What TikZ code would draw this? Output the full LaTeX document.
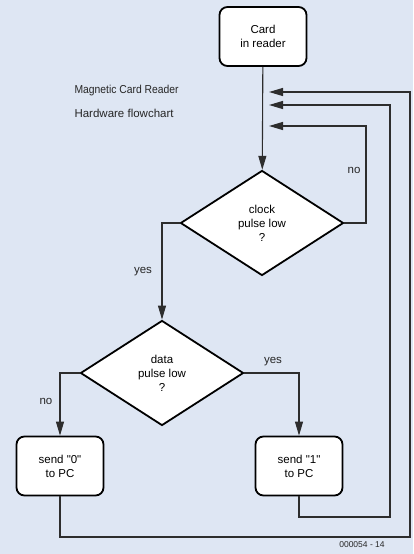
\documentclass[tikz,border=0pt]{standalone}
\usepackage{fontspec}
\setmainfont{Liberation Sans}
\usetikzlibrary{shapes.geometric,arrows.meta}
\definecolor{paleblue}{RGB}{222,230,243}
\definecolor{wirecol}{RGB}{45,45,45}

\begin{document}
\begin{tikzpicture}[x=1pt,y=-1pt,
    box/.style={draw,line width=1.8pt,rounded corners=8pt,fill=white,minimum width=87pt,
      minimum height=59pt,align=center,font=\fontsize{11.5}{14}\selectfont},
    decision/.style={diamond,draw,line width=1.8pt,fill=white,minimum width=163pt,
      minimum height=105pt,inner sep=0pt,align=center,font=\fontsize{11.5}{14}\selectfont},
    wire/.style={draw=wirecol,line width=1.1pt},
    arr/.style={wire,-{Triangle[length=14pt,width=8pt]}},
    lbl/.style={font=\fontsize{11.5}{14}\selectfont,text=black!85}]
  \useasboundingbox (0,0) rectangle (413,554);
  \fill[paleblue] (0,0) rectangle (413,554);

  % title
  \node[anchor=west,lbl] (title) at (71,91) {\scalebox{0.9}[1]{Magnetic Card Reader}};
  \node[anchor=west,lbl] (subtitle) at (71,113) {Hardware flowchart};

  % blocks
  \node[box] (card) at (263,36.5) {Card\\in reader};
  \node[decision] (clock) at (262,223) {clock\\pulse low\\?};
  \node[decision] (data) at (162,373) {data\\pulse low\\?};
  \node[box] (send0) at (60,466) {send \textquotedbl0\textquotedbl\\to PC};
  \node[box] (send1) at (299,466) {send \textquotedbl1\textquotedbl\\to PC};

  % return points on the main line
  \coordinate (in1) at (269,92);
  \coordinate (in2) at (269,105);
  \coordinate (in3) at (269,126);
  \coordinate (loopA) at (410,537);
  \coordinate (loopB) at (390,517);
  \coordinate (loopC) at (366,126);

  \draw[arr] (card) -- (clock);
  \draw[arr] (clock.east) -| (loopC) -- (in3);
  \draw[arr] (clock.west) -| (data.north);
  \draw[arr] (data.west) -| (send0.north);
  \draw[arr] (data.east) -| (send1.north);
  \draw[arr] (send1.south) |- (loopB) |- (in2);
  \draw[arr] (send0.south) |- (loopA) |- (in1);

  \foreach \n/\x/\y/\t in {noA/354/170/no,yesA/143/272/yes,yesB/273/362/yes,noB/46/401/no}{
    \node[lbl] (\n) at (\x,\y) {\t};
  }
  \node[text=black!85,font=\fontsize{8.5}{10}\selectfont] (code) at (362,545) {000054 - 14};
\end{tikzpicture}
\end{document}
